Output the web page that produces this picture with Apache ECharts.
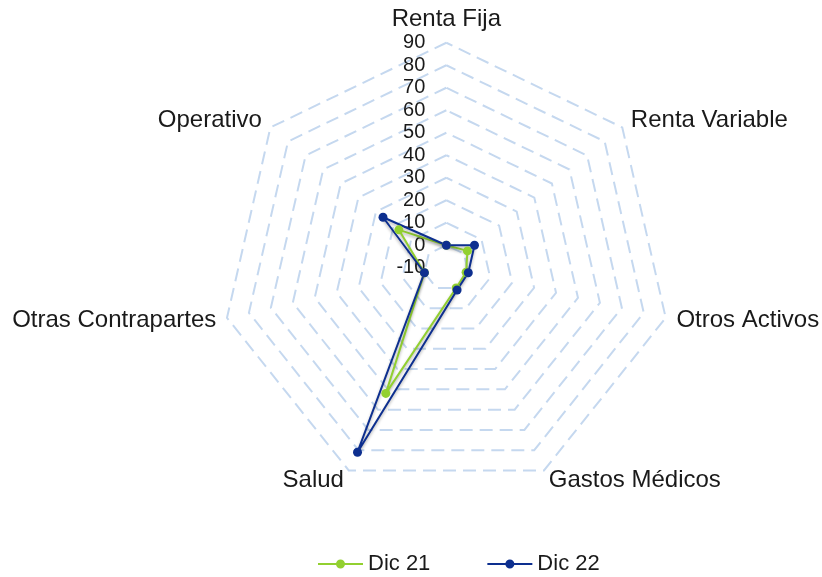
<!DOCTYPE html>
<html>
<head>
<meta charset="utf-8">
<script src="https://cdn.jsdelivr.net/npm/echarts@6/dist/echarts.min.js"></script>
<style>
  html, body { margin: 0; padding: 0; background: #fff; }
  #chart { width: 822px; height: 577px; }
</style>
</head>
<body>
<div id="chart"></div>
<script>
// axes in clockwise order starting at the top
const categories = ['Renta Fija', 'Renta Variable', 'Otros Activos', 'Gastos Médicos', 'Salud', 'Otras Contrapartes', 'Operativo'];
const dic21 = [0, 2, -1, 0, 52, 0, 17];
const dic22 = [0, 6, 0, 1, 81, 0, 26];
const axisMin = -10;
const axisMax = 90;

// radar runs counter-clockwise, so flip the order after the first axis
const flip = arr => [arr[0]].concat(arr.slice(1).reverse());

const chart = echarts.init(document.getElementById('chart'));
const font = 'Liberation Sans, Arial, sans-serif';
const center = ['54.3%', '46.4%'];
const radius = 225;

// excel-like legend marker: thin line with a dot in the middle
const lineDot = 'path://M0,4 L19,4 L19,6 L0,6 Z M26,4 L45,4 L45,6 L26,6 Z ' +
  'M18,5 a4.5,4.5 0 1,1 9,0 a4.5,4.5 0 1,1 -9,0 Z';

chart.setOption({
  animation: false,
  textStyle: { fontFamily: font },
  legend: {
    top: 548,
    left: 313,
    icon: lineDot,
    itemWidth: 45,
    itemHeight: 10,
    itemGap: 57,
    textStyle: { fontSize: 22, color: '#1a1a1a', fontFamily: font },
    data: ['Dic 21', 'Dic 22']
  },
  radar: {
    center: center,
    radius: radius,
    splitNumber: 10,
    shape: 'polygon',
    indicator: flip(categories).map(name => ({ name, min: axisMin, max: axisMax })),
    axisName: { color: '#1a1a1a', fontSize: 24, fontFamily: font },
    nameGap: 11,
    axisLine: { show: false },
    axisTick: { show: false },
    axisLabel: { show: false },
    splitArea: { show: false },
    splitLine: {
      lineStyle: { color: '#c5d8ef', width: 2, type: [13, 7] }
    }
  },
  // polar overlay only used to print the value scale along the top axis
  polar: { center: center, radius: radius },
  angleAxis: { show: false, startAngle: 90, min: 0, max: 360 },
  radiusAxis: {
    min: axisMin,
    max: axisMax,
    interval: 10,
    axisLine: { show: false },
    axisTick: { show: false },
    splitLine: { show: false },
    axisLabel: { color: '#1a1a1a', fontSize: 20, fontFamily: font, margin: 21 }
  },
  series: [
    {
      type: 'radar',
      symbol: 'circle',
      symbolSize: 9,
      data: [
        {
          name: 'Dic 21',
          value: flip(dic21),
          itemStyle: { color: '#92d030' },
          lineStyle: { color: '#92d030', width: 2, shadowColor: 'rgba(0,0,0,0.3)', shadowBlur: 3, shadowOffsetY: 2 }
        },
        {
          name: 'Dic 22',
          value: flip(dic22),
          itemStyle: { color: '#0d2f8f' },
          lineStyle: { color: '#0d2f8f', width: 2, shadowColor: 'rgba(0,0,0,0.3)', shadowBlur: 3, shadowOffsetY: 2 }
        }
      ]
    }
  ]
});
</script>
</body>
</html>
